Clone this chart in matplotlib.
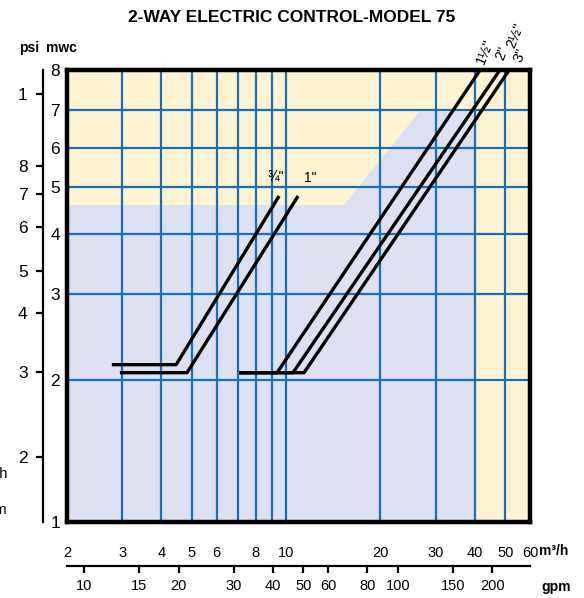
import numpy as np
import matplotlib
matplotlib.use('Agg')
import matplotlib.pyplot as plt
from matplotlib import font_manager as fm
from matplotlib import transforms as mtransforms

names = {f.name for f in fm.fontManager.ttflist}
FONT = 'Liberation Sans Narrow' if 'Liberation Sans Narrow' in names else 'Liberation Sans'
plt.rcParams['font.family'] = [FONT, 'DejaVu Sans']

# ---------------- data ----------------
title = "2-WAY ELECTRIC CONTROL-MODEL 75"
flow_ticks = [2, 3, 4, 5, 6, 8, 10, 20, 30, 40, 50, 60]          # m3/h labels
flow_grid = [3, 4, 5, 6, 7, 8, 9, 10, 20, 30, 40, 50]             # vertical grid
gpm_ticks = [10, 15, 20, 30, 40, 50, 60, 80, 100, 150, 200]
mwc_ticks = [1, 2, 3, 4, 5, 6, 7, 8]
mwc_grid = [2, 3, 4, 5, 6, 7]
psi_labels = ['2', '3', '4', '5', '6', '7', '8', '1']
psi_at_mwc = [1.374, 2.076, 2.74, 3.35, 4.13, 4.83, 5.51, 7.38]
GPM_PER_M3H = 1 / 0.2271

# valve curves: flow (m3/h), head loss (mwc)
v34_flow = [2.78, 4.46, 9.50];   v34_head = [2.15, 2.15, 4.79]
v1_flow = [2.95, 4.83, 10.92];   v1_head = [2.07, 2.07, 4.79]
v112_flow = [7.08, 9.36, 41.6];  v112_head = [2.07, 2.07, 8.0]
v2_flow = [7.08, 10.52, 48.1];   v2_head = [2.07, 2.07, 8.0]
v3_flow = [7.08, 11.41, 51.5];   v3_head = [2.07, 2.07, 8.0]

# shaded operating region
zone_flow = [2, 2, 15.3, 26.6, 40, 40]
zone_head = [1, 4.59, 4.59, 6.95, 6.95, 1]

# ---------------- custom (chart-specific) head scale ----------------
F = np.array([0, .3142, .5044, .6372, .7412, .8274, .9115, 1.0])
L = np.log(np.array(mwc_ticks, dtype=float))

def fwd(v):
    lv = np.log(np.maximum(np.asarray(v, dtype=float), 1e-12))
    out = np.interp(lv, L, F)
    out = np.where(lv < L[0], F[0] + (lv - L[0]) * (F[1] - F[0]) / (L[1] - L[0]), out)
    out = np.where(lv > L[-1], F[-1] + (lv - L[-1]) * (F[-1] - F[-2]) / (L[-1] - L[-2]), out)
    return out

def inv(f):
    f = np.asarray(f, dtype=float)
    out = np.interp(f, F, L)
    out = np.where(f < F[0], L[0] + (f - F[0]) * (L[1] - L[0]) / (F[1] - F[0]), out)
    out = np.where(f > F[-1], L[-1] + (f - F[-1]) * (L[-1] - L[-2]) / (F[-1] - F[-2]), out)
    return np.exp(out)

YELLOW = '#FEF4D2'
LAV = '#DDE0F0'
BLUE = '#1570B8'

W, H = 584, 598
fig = plt.figure(figsize=(W / 100, H / 100), dpi=100)
x0, x1, ytop, ybot = 67, 530, 70, 522
ax = fig.add_axes([x0 / W, 1 - ybot / H, (x1 - x0) / W, (ybot - ytop) / H])
ax.set_xscale('log')
ax.set_yscale('function', functions=(fwd, inv))
ax.set_xlim(flow_ticks[0], flow_ticks[-1])
ax.set_ylim(mwc_ticks[0], mwc_ticks[-1])
ax.set_facecolor(YELLOW)

ax.fill(zone_flow, zone_head, color=LAV, lw=0, zorder=0)
for g in flow_grid:
    ax.axvline(g, color=BLUE, lw=1.6, zorder=1)
for g in mwc_grid:
    ax.axhline(g, color=BLUE, lw=1.6, zorder=1)

for fx, hy in [(v34_flow, v34_head), (v1_flow, v1_head), (v112_flow, v112_head),
               (v2_flow, v2_head), (v3_flow, v3_head)]:
    ax.plot(fx, hy, color='black', lw=2.4, solid_capstyle='butt', zorder=3, clip_on=True)

for s in ax.spines.values():
    s.set_linewidth(3.2)
    s.set_zorder(5)

ax.set_xticks(flow_ticks)
ax.set_xticklabels([str(t) for t in flow_ticks])
ax.xaxis.set_minor_locator(matplotlib.ticker.NullLocator())
ax.tick_params(axis='x', length=0, pad=17, labelsize=10.5)
ax.set_yticks(mwc_ticks)
ax.set_yticklabels([str(t) for t in mwc_ticks])
ax.yaxis.set_minor_locator(matplotlib.ticker.NullLocator())
ax.tick_params(axis='y', length=0, pad=5, labelsize=12.5)

# size labels
ax.text(9.29, 5.21, "¾\"", ha='center', va='center', fontsize=10)
ax.text(11.93, 5.21, "1\"", ha='center', va='center', fontsize=10)
bt = mtransforms.blended_transform_factory(ax.transData, ax.transAxes)
for lab, fx, fy in [("1½\"", 43.2, 1.04), ("2\"", 49.0, 1.037), ("2½\"", 54.0, 1.075), ("3\"", 55.8, 1.033)]:
    ax.text(fx, fy, lab, transform=bt, rotation=68, ha='center', va='center', fontsize=10.5, clip_on=False)

# psi axis
axp = fig.add_axes([43 / W, 1 - ybot / H, 0.0001, (ybot - ytop) / H])
axp.set_yscale('function', functions=(fwd, inv))
axp.set_ylim(mwc_ticks[0], mwc_ticks[-1])
axp.set_facecolor('none')
for k in ['top', 'right', 'bottom']:
    axp.spines[k].set_visible(False)
axp.spines['left'].set_linewidth(1.6)
axp.set_xticks([])
axp.yaxis.set_minor_locator(matplotlib.ticker.NullLocator())
axp.set_yticks(psi_at_mwc)
axp.set_yticklabels(psi_labels)
axp.tick_params(axis='y', direction='out', length=5, width=1.6, pad=6, labelsize=12.5)

# gpm axis
axg = fig.add_axes([x0 / W, 1 - 566 / H, (x1 - x0) / W, 0.0001])
axg.set_facecolor('none')
axg.set_xscale('log')
axg.set_xlim(flow_ticks[0] * GPM_PER_M3H, flow_ticks[-1] * GPM_PER_M3H)
for k in ['top', 'right', 'left']:
    axg.spines[k].set_visible(False)
axg.spines['bottom'].set_linewidth(1.6)
axg.set_yticks([])
axg.set_xticks(gpm_ticks)
axg.set_xticklabels([str(t) for t in gpm_ticks])
axg.xaxis.set_minor_locator(matplotlib.ticker.NullLocator())
axg.tick_params(axis='x', direction='out', length=5, width=1.6, pad=4, labelsize=10.5)

fig.text(0.5, 1 - 18 / H, title, ha='center', va='center', fontsize=12.5, fontweight='bold')
fig.text(29 / W, 1 - 48 / H, "psi", ha='center', va='center', fontsize=10, fontweight='bold')
fig.text(61 / W, 1 - 48 / H, "mwc", ha='center', va='center', fontsize=10, fontweight='bold')
fig.text(539 / W, 1 - 551 / H, "m³/h", ha='left', va='center', fontsize=10, fontweight='bold')
fig.text(556 / W, 1 - 587 / H, "gpm", ha='center', va='center', fontsize=10, fontweight='bold')
fig.text(7 / W, 1 - 474 / H, "m³/h", ha='right', va='center', fontsize=10.5)
fig.text(7 / W, 1 - 510 / H, "gpm", ha='right', va='center', fontsize=10.5)

fig.savefig('out.png', dpi=100)
